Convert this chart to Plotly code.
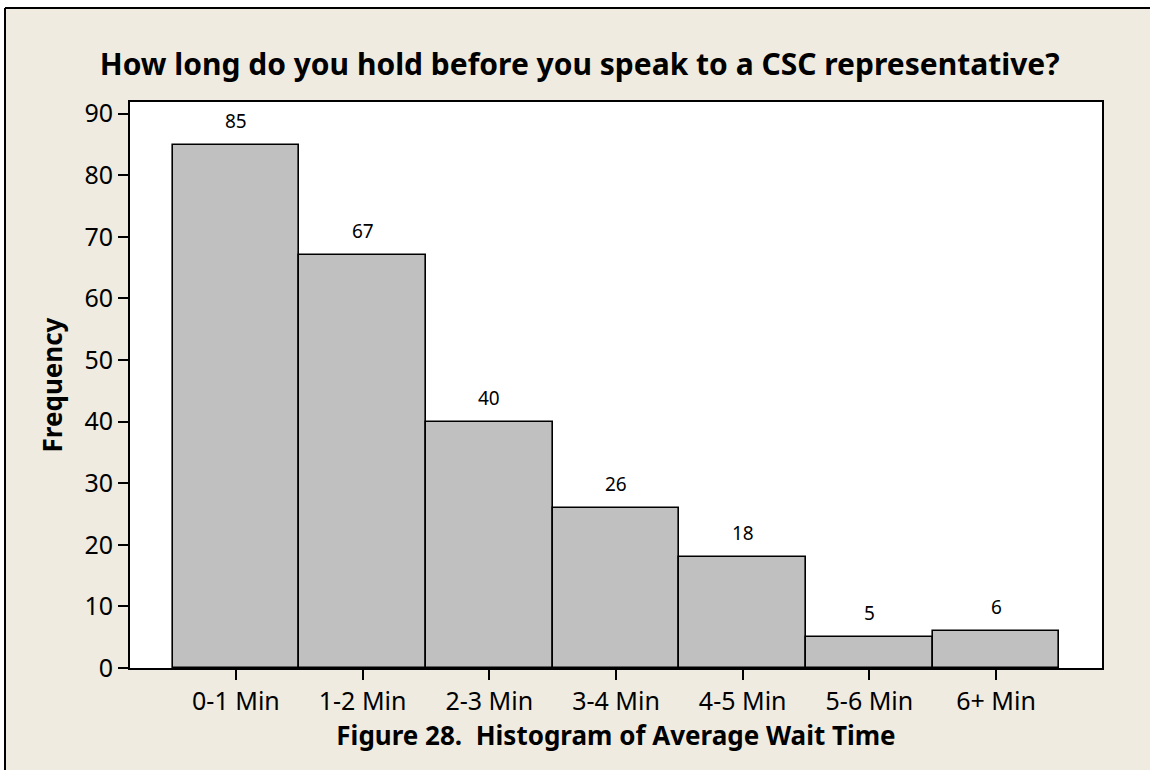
import plotly.graph_objects as go

# wait time bins and counts
categories = ['0-1 Min', '1-2 Min', '2-3 Min', '3-4 Min', '4-5 Min', '5-6 Min', '6+ Min']
counts = [85, 67, 40, 26, 18, 5, 6]
y_ticks = [0, 10, 20, 30, 40, 50, 60, 70, 80, 90]

bg = '#EFEBE1'
font_name = 'Noto Sans'

fig = go.Figure()
fig.add_trace(go.Bar(
    x=list(range(len(categories))),
    y=counts,
    marker=dict(color='#C0C0C0', line=dict(color='black', width=1.6)),
    width=1,
    hoverinfo='skip',
))

# count labels above each bar
for i, c in enumerate(counts):
    fig.add_annotation(x=i, y=c, text=str(c), showarrow=False,
                       yanchor='bottom', yshift=9,
                       font=dict(family=font_name, size=19, color='black'))

# white strip outside the picture frame, then the frame edges (top and left)
fx, fy = -0.1286, 1.166
fig.add_shape(type='rect', xref='paper', yref='paper', layer='below',
              x0=-0.2, x1=1.1, y0=fy, y1=1.3, fillcolor='white', line_width=0)
fig.add_shape(type='rect', xref='paper', yref='paper', layer='below',
              x0=-0.2, x1=fx, y0=-0.3, y1=1.3, fillcolor='white', line_width=0)
fig.add_shape(type='line', xref='paper', yref='paper',
              x0=fx, x1=1.1, y0=fy, y1=fy,
              line=dict(color='black', width=2))
fig.add_shape(type='line', xref='paper', yref='paper',
              x0=fx, x1=fx, y0=fy, y1=-0.3,
              line=dict(color='black', width=2))

fig.update_layout(
    width=1150, height=770,
    margin=dict(l=130, r=48, t=102, b=102),
    paper_bgcolor=bg,
    plot_bgcolor='white',
    showlegend=False,
    bargap=0,
    font=dict(family=font_name, color='black'),
    title=dict(text='<b>How long do you hold before you speak to a CSC representative?</b>',
               x=0.504, xanchor='center', y=1 - 64 / 770, yanchor='middle',
               font=dict(family=font_name, size=30, color='black')),
)

fig.update_xaxes(
    range=[-0.836, len(categories) - 1 + 0.836],
    tickmode='array', tickvals=list(range(len(categories))), ticktext=categories,
    ticks='outside', ticklen=10, tickwidth=2, tickcolor='black',
    tickfont=dict(size=25),
    showline=True, linecolor='black', linewidth=2, mirror=True,
    showgrid=False, zeroline=False,
    title=dict(text='<b>Figure 28.\u00a0 Histogram of Average Wait Time</b>',
               font=dict(size=26), standoff=4),
)

fig.update_yaxes(
    range=[0, 91.9],
    tickmode='array', tickvals=y_ticks,
    ticks='outside', ticklen=10, tickwidth=2, tickcolor='black',
    tickfont=dict(size=25),
    showline=True, linecolor='black', linewidth=2, mirror=True,
    showgrid=False, zeroline=False,
    title=dict(text='<b>Frequency</b>', font=dict(size=26), standoff=14),
)

fig.write_html('out.html', config={'displayModeBar': False},
               post_script="document.body.style.margin='0';document.body.style.overflow='hidden';")
